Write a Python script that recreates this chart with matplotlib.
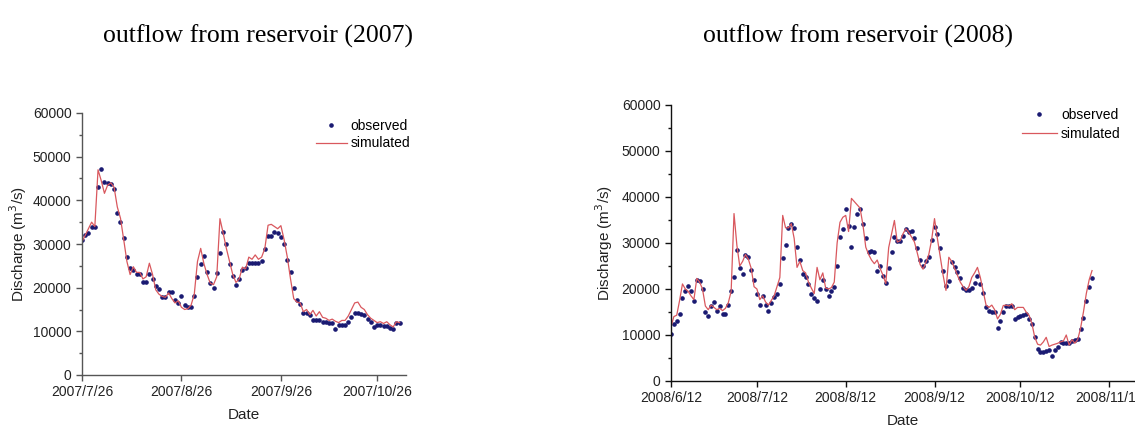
import matplotlib
matplotlib.use("Agg")
import matplotlib.pyplot as plt
import matplotlib.dates as mdates
from matplotlib.ticker import MultipleLocator, FuncFormatter
import pandas as pd

plt.rcParams['font.family'] = ['Liberation Sans', 'DejaVu Sans']

# daily outflow, 2007 season (starts 2007/7/26)
obs_2007 = [31000, 32000, 32500, 34000, 34000, 43000, 47200, 44200, 43900, 43700,
            42500, 37000, 35100, 31300, 27000, 24600, 24000, 23100, 23100, 21300,
            21300, 23100, 22000, 20300, 19600, 17900, 17900, 19000, 19000, 17100,
            16500, 18000, 16000, 15500, 15500, 18000, 22500, 25500, 27200, 23500,
            21000, 19900, 23300, 28000, 32800, 30000, 25500, 22600, 20600, 22000,
            24000, 24600, 25700, 25700, 25700, 25700, 26000, 28800, 31800, 31800,
            32800, 32600, 31500, 30100, 26300, 23500, 20000, 17100, 16200, 14100,
            14200, 13700, 12700, 12500, 12500, 12200, 12200, 11800, 11800, 10500,
            11400, 11400, 11400, 12200, 13300, 14200, 14100, 13900, 13700, 12900,
            12200, 11000, 11400, 11400, 11200, 11200, 10800, 10600, 11900, 11900]
sim_2007 = [30500, 32000, 33500, 35000, 34000, 47000, 44500, 41600, 43500, 44000,
            43000, 38500, 35900, 31000, 26000, 23000, 24800, 23500, 23500, 22000,
            22500, 25600, 23000, 19500, 18500, 18000, 17800, 18800, 17500, 16500,
            17000, 15500, 15000, 15200, 16000, 18500, 26000, 29000, 25500, 23000,
            21000, 20700, 22500, 35800, 32500, 29000, 26000, 23000, 21200, 22000,
            24700, 24300, 27000, 26500, 27500, 26500, 27000, 29000, 34300, 34500,
            34000, 33500, 34200, 31000, 27000, 22000, 17500, 16700, 16500, 14500,
            15000, 13800, 14800, 13500, 14500, 13200, 13000, 12500, 12800, 12300,
            12000, 12500, 12500, 13500, 15000, 16500, 16700, 15500, 15000, 13800,
            13000, 12500, 12000, 12200, 11800, 12200, 11500, 11000, 12200, 12000]

# daily outflow, 2008 season (starts 2008/6/12)
obs_2008 = [10200, 12500, 13100, 14500, 18000, 19500, 20700, 19500, 17500, 22000,
            21800, 20000, 14900, 14100, 16300, 17100, 15300, 16300, 14500, 14500,
            16500, 19500, 22700, 28400, 24500, 23300, 27500, 27000, 24200, 22000,
            19000, 16500, 18500, 16500, 15300, 17000, 18300, 19000, 21000, 26800,
            29600, 33300, 34200, 33200, 29200, 26400, 23300, 22600, 21000, 19000,
            18000, 17500, 20100, 22000, 20000, 18400, 19500, 20500, 25000, 31200,
            33100, 37500, 33600, 29100, 33500, 36400, 37400, 34200, 31000, 28100,
            28200, 28000, 24000, 25000, 22900, 21200, 24500, 28000, 31400, 30500,
            30500, 31600, 33100, 32300, 32600, 31000, 29000, 26400, 25000, 26000,
            27000, 30700, 33500, 32000, 29000, 24000, 20700, 21700, 25800, 24700,
            23600, 22500, 20200, 19700, 19700, 20300, 21300, 22800, 21000, 19200,
            16000, 15300, 14900, 14900, 11600, 13000, 14900, 16400, 16400, 16400,
            13500, 14000, 14200, 14300, 14500, 13500, 12400, 9500, 6900, 6400,
            6400, 6600, 6800, 5500, 6800, 7300, 8500, 8200, 8200, 8200,
            8700, 8900, 9100, 11200, 13800, 17500, 20400, 22500]
sim_2008 = [11800, 14000, 14300, 17500, 21100, 20000, 19500, 18500, 17700, 22300,
            21500, 20000, 16300, 15500, 16500, 16000, 15500, 15800, 15300, 15800,
            17000, 19500, 36400, 29500, 25000, 26000, 27500, 26500, 24500, 20500,
            20000, 17700, 18500, 17200, 16500, 17500, 18500, 20500, 22500, 36000,
            33300, 33300, 34200, 31000, 24700, 26000, 24000, 23500, 21500, 20200,
            19000, 24700, 22000, 23500, 20200, 20000, 20300, 21500, 30000, 34500,
            35600, 36000, 32500, 39700, 39000, 38300, 37600, 34000, 29100, 27500,
            26300, 25500, 26300, 24500, 23000, 21200, 29000, 32000, 34900, 30200,
            30500, 32000, 33100, 32300, 31300, 30200, 27800, 25300, 24300, 25800,
            27500, 30700, 35300, 31000, 27000, 23000, 19700, 26900, 26000, 24500,
            23000, 21500, 20500, 19700, 20500, 22500, 23500, 24700, 22500, 19500,
            16500, 16000, 16500, 15500, 13500, 14500, 16400, 16500, 16300, 16800,
            15500, 16000, 16000, 16000, 15000, 14300, 12500, 9500, 8000, 7800,
            8500, 9500, 7500, 7800, 8000, 8200, 8500, 8700, 10000, 7800,
            9000, 8200, 9000, 11500, 15000, 19000, 22000, 24000]

dates_2007 = pd.date_range("2007-07-26", periods=len(obs_2007), freq="D")
dates_2008 = pd.date_range("2008-06-12", periods=len(obs_2008), freq="D")

ticks_2007 = pd.to_datetime(["2007-07-26", "2007-08-26", "2007-09-26", "2007-10-26"])
ticks_2008 = pd.to_datetime(["2008-06-12", "2008-07-12", "2008-08-12", "2008-09-12",
                             "2008-10-12", "2008-11-12"])

W, H = 1135, 428
fig = plt.figure(figsize=(W / 100, H / 100), dpi=100)

# axes boxes in pixels: left, top(60000), right, bottom(0)
ax1 = fig.add_axes([82 / W, 1 - 375 / H, (406 - 82) / W, (375 - 113) / H])
ax2 = fig.add_axes([671 / W, 1 - 381 / H, (W - 671) / W, (381 - 105) / H])

date_fmt = FuncFormatter(lambda v, pos: "{0.year}/{0.month}/{0.day}".format(mdates.num2date(v)))


def draw_panel(ax, dates, obs, sim, ticks, xmin, xmax, spine_col, ypad,
               leg_xy, leg_sp, leg_len):
    ax.plot(dates, obs, linestyle="none", marker="o", markersize=2.3,
            color="#1a1a72", label="observed")
    ax.plot(dates, sim, color="#d9585e", linewidth=0.9, label="simulated")
    ax.set_xlim(pd.Timestamp(xmin), pd.Timestamp(xmax))
    ax.set_ylim(0, 60000)
    ax.set_xticks(ticks)
    ax.xaxis.set_major_formatter(date_fmt)
    ax.yaxis.set_major_locator(MultipleLocator(10000))
    ax.yaxis.set_minor_locator(MultipleLocator(5000))
    for side in ("top", "right"):
        ax.spines[side].set_visible(False)
    for side in ("left", "bottom"):
        ax.spines[side].set_color(spine_col)
        ax.spines[side].set_linewidth(1.0)
    ax.tick_params(which="major", length=4, width=1, color=spine_col,
                   labelsize=10, labelcolor="#222222")
    ax.tick_params(which="minor", length=2.5, width=1, color=spine_col)
    ax.set_xlabel("Date", fontsize=11, color="#222222", labelpad=6)
    ax.set_ylabel("Discharge (m$^3$/s)", fontsize=11, color="#222222", labelpad=ypad)
    ax.legend(loc="upper left", bbox_to_anchor=leg_xy, bbox_transform=fig.transFigure,
              frameon=False, fontsize=10, handlelength=leg_len, handletextpad=0.3,
              labelspacing=leg_sp, borderpad=0, borderaxespad=0)


draw_panel(ax1, dates_2007, obs_2007, sim_2007, ticks_2007,
           "2007-07-26", "2007-11-04", "#555555", 3,
           (316 / W, 1 - 119 / H), 0.25, 2.2)
draw_panel(ax2, dates_2008, obs_2008, sim_2008, ticks_2008,
           "2008-06-12", "2008-11-21", "#111111", 5,
           (1022 / W, 1 - 108 / H), 0.38, 2.5)

fig.text(258 / W, 1 - 36 / H, "outflow from reservoir (2007)", ha="center", va="center",
         family="Liberation Serif", fontsize=18.5)
fig.text(858 / W, 1 - 36 / H, "outflow from reservoir (2008)", ha="center", va="center",
         family="Liberation Serif", fontsize=18.5)

fig.savefig("out.png", dpi=100)
